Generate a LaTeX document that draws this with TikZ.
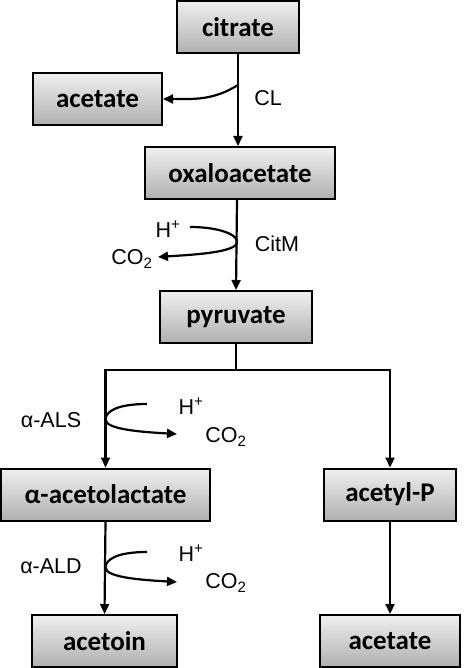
\documentclass[tikz,border=0pt]{standalone}
\usepackage{fontspec}
\setmainfont{Liberation Sans}
\newfontfamily\boxfont{Carlito}
\usetikzlibrary{arrows.meta}

\tikzset{
	met/.style={draw, line width=2pt, top color=gray!12, bottom color=gray!62, minimum height=52pt, inner sep=0pt, font=\boxfont\bfseries\fontsize{27}{27}\selectfont},
	lbl/.style={inner sep=0pt, font=\fontsize{21.5}{21.5}\selectfont},
	flow/.style={line width=2.2pt, -{Triangle[length=10pt,width=9pt]}},
	bare/.style={line width=2.2pt}
}

\begin{document}
\begin{tikzpicture}[x=1pt,y=1pt]
	\useasboundingbox (0,0) rectangle (466,-668);
	\node[met, minimum width=122pt] (citrate) at (238,-27) {citrate};
	\node[met, minimum width=129pt] (aceL) at (97.5,-99) {acetate};
	\node[met, minimum width=190pt] (oxalo) at (240,-173) {oxaloacetate};
	\node[met, minimum width=152pt] (pyr) at (236,-317) {pyruvate};
	\node[met, minimum width=209pt] (acl) at (105.5,-494.5) {α-acetolactate};
	\node[met, minimum width=132pt] (acp) at (390,-494.5) {acetyl-P};
	\node[met, minimum width=145pt] (acetoin) at (104.5,-641) {acetoin};
	\node[met, minimum width=140pt] (aceR) at (390,-641) {acetate};
	\node[lbl] (cl) at (268,-98) {CL};
	\node[lbl] (citm) at (277,-244) {CitM};
	\node[lbl] (hA) at (168,-229) {H\textsuperscript{+}};
	\node[lbl] (cA) at (132,-259) {CO\textsubscript{2}};
	\node[lbl] (als) at (51,-420) {α-ALS};
	\node[lbl] (hB) at (191,-406) {H\textsuperscript{+}};
	\node[lbl] (cB) at (226,-437) {CO\textsubscript{2}};
	\node[lbl] (ald) at (51,-566) {α-ALD};
	\node[lbl] (hC) at (191,-553) {H\textsuperscript{+}};
	\node[lbl] (cC) at (226,-583) {CO\textsubscript{2}};
	\path (citrate.south) ++(0,-31) coordinate (cls);
	\path (oxalo.south) ++(-3,-43) coordinate (cms);
	\path (pyr.south) ++(0,-26) coordinate (fork);
	\path (acl.north) ++(0,48) coordinate (alsm);
	\path (acl.south) ++(0,-46) coordinate (aldm);
	\coordinate (hAe) at (190,-227);
	\coordinate (cAe) at (158,-257);
	\coordinate (hBe) at (147,-404);
	\coordinate (cBe) at (177,-434);
	\coordinate (hCe) at (147,-552);
	\coordinate (cCe) at (177,-582);
	\draw[flow] (citrate.south) -- (citrate.south |- oxalo.north);
	\draw[flow] (cls) to[out=212,in=0] (aceL.east);
	\draw[flow] (oxalo.south) ++(-3,0) -- (pyr.north);
	\draw[flow] (hAe) .. controls +(30,0) and +(2,8) .. (cms) .. controls +(-3,-10) and +(30,2) .. (cAe);
	\draw[bare] (pyr.south) -- (fork);
	\draw[flow] (fork) -| (acl.north);
	\draw[flow] (fork) -| (acp.north);
	\draw[flow] (hBe) .. controls +(-30,0) and +(0,8) .. (alsm) .. controls +(0,-10) and +(-35,2) .. (cBe);
	\draw[flow] (acl.south) -- (acetoin.north);
	\draw[flow] (hCe) .. controls +(-30,0) and +(0,8) .. (aldm) .. controls +(0,-10) and +(-35,2) .. (cCe);
	\draw[flow] (acp.south) -- (aceR.north);
\end{tikzpicture}
\end{document}
